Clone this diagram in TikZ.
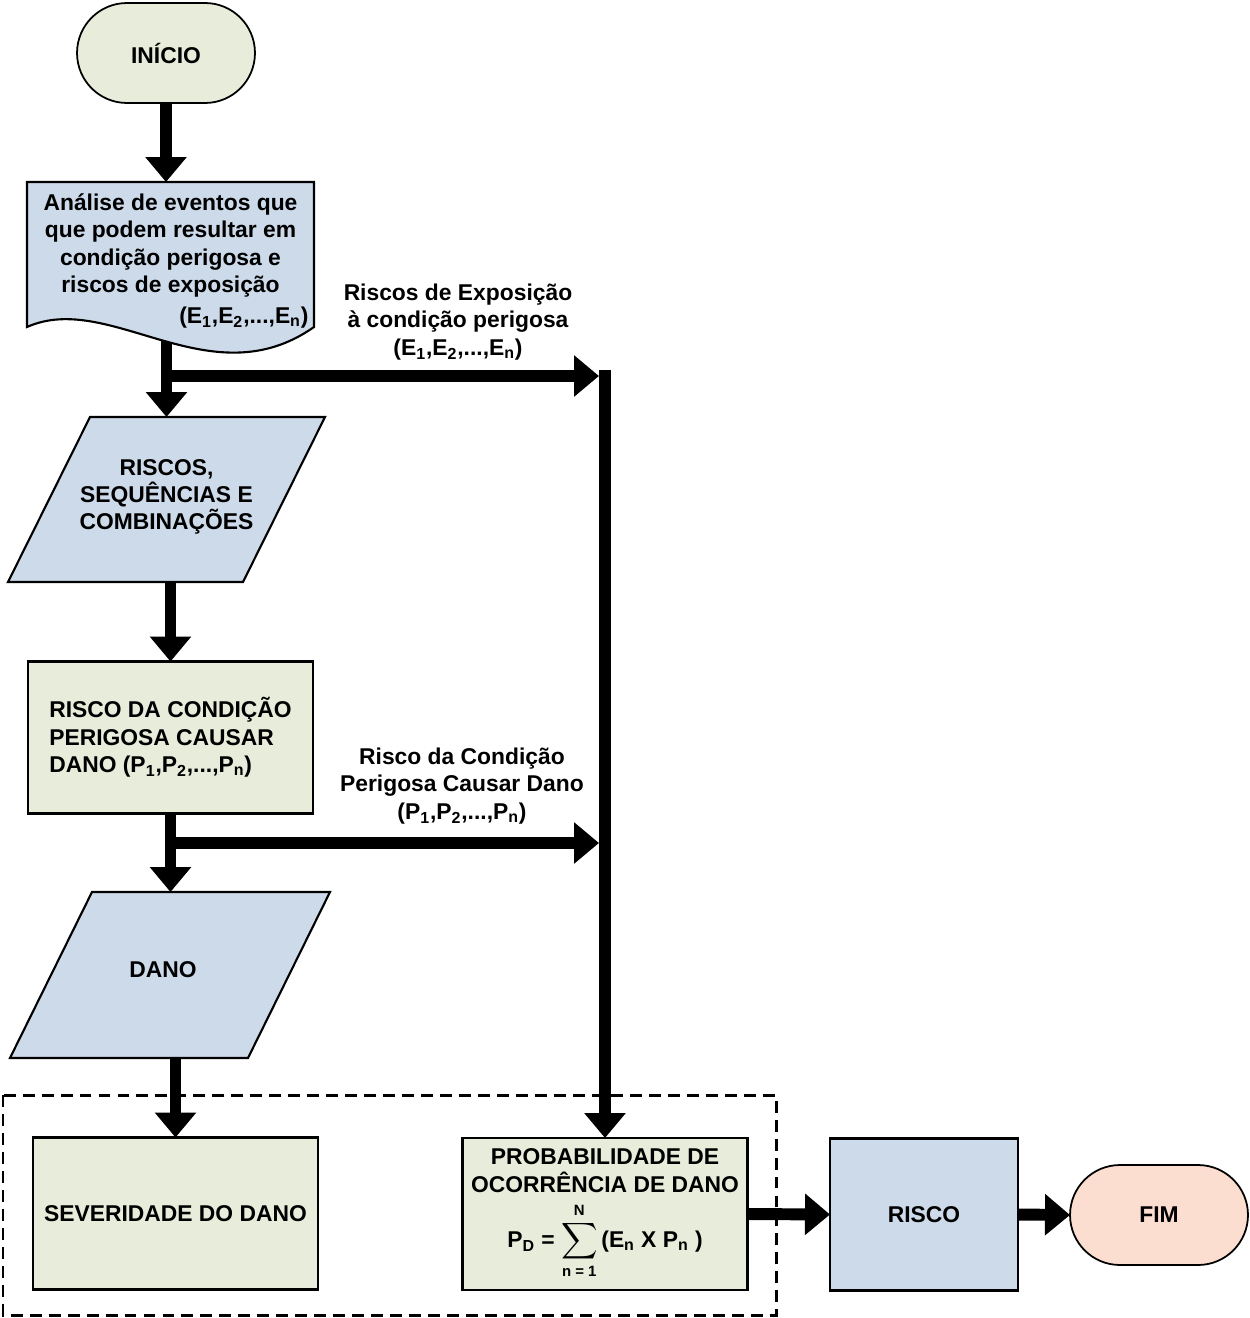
\documentclass[tikz,border=0pt]{standalone}
\usepackage{amsmath}
\usepackage{fontspec}
\setmainfont{Liberation Sans}
\usetikzlibrary{arrows.meta,backgrounds}

\definecolor{boxgreen}{RGB}{232,236,218}
\definecolor{boxblue}{RGB}{205,218,234}
\definecolor{boxsalmon}{RGB}{251,222,208}

\begin{document}
\begin{tikzpicture}[
  x=0.02cm, y=-0.02cm,
  every node/.style={font=\fontsize{13}{15.6}\selectfont\bfseries, inner sep=0pt, outer sep=0pt},
  term/.style={rectangle, rounded corners=1cm, draw=black, line width=1pt, minimum width=3.56cm, minimum height=2cm},
  proc/.style={rectangle, draw=black, line width=1.5pt, fill=boxgreen, minimum width=5.7cm, minimum height=3.04cm},
  iobox/.style={draw=black, line width=1.2pt, fill=boxblue},
  docshape/.style={draw=black, line width=1.2pt, fill=boxblue},
  flow/.style={draw=black, line width=6.8pt, -{Triangle[length=0.5cm, width=0.8cm]}},
  dashbox/.style={draw=black, line width=1.7pt, dash pattern=on 6.8pt off 4pt},
  lbl/.style={align=center}
]
  \useasboundingbox (0,0) rectangle (1250,1318);

  \node[term, fill=boxgreen] (inicio) at (166,53) {INÍCIO};

  \draw[docshape] (27,182) -- (314,182) -- (314,327) .. controls (210,400) and (110,290) .. (27,327) -- cycle;
  \node[minimum width=5.74cm, minimum height=2.9cm] (ana) at (170.5,254.5)
    {\raisebox{-0.13cm}[\height][\depth]{\parbox{5.52cm}{\centering
     Análise de eventos que\\ que podem resultar em\\ condição perigosa e\\ riscos de exposição\\[2pt]
     \hfill(E\textsubscript{1},E\textsubscript{2},...,E\textsubscript{n})}}};

  \draw[iobox] (90,417) -- (325,417) -- (243,582) -- (8,582) -- cycle;
  \node[lbl, minimum height=3.3cm] (par1) at (166.5,499.5) {RISCOS,\\ SEQUÊNCIAS E\\ COMBINAÇÕES\\[-10pt]};

  \node[proc, align=left] (rdc) at (170.5,737.5)
    {RISCO DA CONDIÇÃO\\ PERIGOSA CAUSAR\\ DANO (P\textsubscript{1},P\textsubscript{2},...,P\textsubscript{n})};

  \draw[iobox] (92,892) -- (330,892) -- (248,1058) -- (10,1058) -- cycle;
  \node[minimum height=3.32cm] (par2) at (163,975) {\raisebox{6pt}{DANO}};

  \node[proc] (sev) at (175.5,1213.5) {SEVERIDADE DO DANO};
  \node[proc, align=center] (prob) at (605,1214)
    {PROBABILIDADE DE\\ OCORRÊNCIA DE DANO\\[5pt]
     P\textsubscript{D} = {\fontsize{15}{18}\selectfont$\displaystyle\sum_{\mbox{\fontsize{8.5}{10}\selectfont n = 1}}^{\mbox{\fontsize{8.5}{10}\selectfont N}}$}\,(E\textsubscript{n} X P\textsubscript{n} )};
  \node[proc, fill=boxblue, minimum width=3.76cm] (risco) at (924,1214.5) {RISCO};
  \node[term, fill=boxsalmon] (fim) at (1159,1215) {FIM};

  \node[lbl] (lblE) at (458,322)
    {Riscos de Exposição\\ à condição perigosa\\ (E\textsubscript{1},E\textsubscript{2},...,E\textsubscript{n})};
  \node[lbl] (lblP) at (462,786)
    {Risco da Condição\\ Perigosa Causar Dano\\ (P\textsubscript{1},P\textsubscript{2},...,P\textsubscript{n})};

  \coordinate (j1) at (605,370);
  \coordinate (e1) at (599,376);
  \coordinate (e2) at (599,843);

  \begin{scope}[on background layer]
    \draw[dashbox] (3,1095) rectangle (776,1315);
    \draw[flow] (inicio.south) -- (inicio.south |- ana.north);
    \draw[flow] (par1.north |- ana.south) -- (par1.north);
    \draw[flow] (par1.north |- e1) -- (e1);
    \draw[flow] (rdc.north |- par1.south) -- (rdc.north);
    \draw[flow] (rdc.south) -- (rdc.south |- par2.north);
    \draw[flow] (rdc.south |- e2) -- (e2);
    \draw[flow] (sev.north |- par2.south) -- (sev.north);
    \draw[flow] (j1) -- (prob.north);
    \draw[flow] (prob.east) -- (risco.west);
    \draw[flow] (risco.east) -- (fim.west);
  \end{scope}
\end{tikzpicture}
\end{document}
